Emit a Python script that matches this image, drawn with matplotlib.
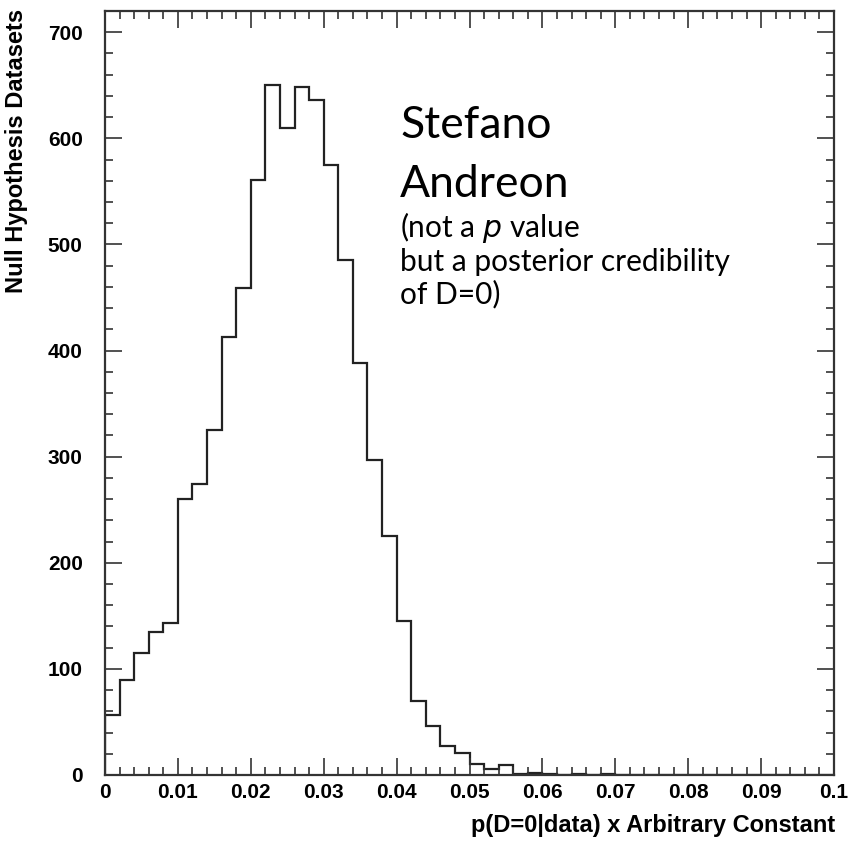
import numpy as np
import matplotlib
matplotlib.use('Agg')
import matplotlib.pyplot as plt
from matplotlib.ticker import MultipleLocator

# histogram of null hypothesis datasets, 50 bins of width 0.002
bin_edges = np.round(np.arange(0, 0.1001, 0.002), 4)
counts = [57, 90, 115, 135, 143, 260, 274, 325, 413, 459,
          561, 650, 610, 648, 636, 575, 485, 388, 297, 225,
          145, 70, 46, 27, 21, 10, 6, 9, 1, 2,
          1, 0, 1, 0, 1, 0, 0, 0, 0, 0,
          0, 0, 0, 0, 0, 0, 0, 0, 0, 0]

x_ticks = [0, 0.01, 0.02, 0.03, 0.04, 0.05, 0.06, 0.07, 0.08, 0.09, 0.1]
x_tick_labels = ['0', '0.01', '0.02', '0.03', '0.04', '0.05', '0.06', '0.07', '0.08', '0.09', '0.1']
x_label = 'p(D=0|data) x Arbitrary Constant'
y_label = 'Null Hypothesis Datasets'

fig = plt.figure(figsize=(8.5, 8.41), dpi=100)
ax = fig.add_axes([105 / 850, 66 / 841, (834 - 105) / 850, (775 - 11) / 841])

ax.stairs(counts, bin_edges, color='#222222', linewidth=1.6)

ax.set_xlim(0, 0.1)
ax.set_ylim(0, 720)
ax.set_xticks(x_ticks)
ax.set_xticklabels(x_tick_labels)
ax.xaxis.set_minor_locator(MultipleLocator(0.002))
ax.yaxis.set_major_locator(MultipleLocator(100))
ax.yaxis.set_minor_locator(MultipleLocator(20))

ax.tick_params(which='both', direction='in', top=True, right=True, width=1.2, color='#333333')
ax.tick_params(which='major', length=12)
ax.tick_params(which='minor', length=6)
for lab in ax.get_xticklabels() + ax.get_yticklabels():
    lab.set_fontfamily('Liberation Sans')
    lab.set_fontweight('bold')
    lab.set_fontsize(15)
ax.tick_params(axis='x', pad=6)
ax.tick_params(axis='y', pad=16)
for s in ax.spines.values():
    s.set_linewidth(1.6)
    s.set_color('#333333')

fig.text(835 / 850, 1 - 832 / 841, x_label, ha='right', va='baseline',
         fontfamily='Liberation Sans', fontweight='bold', fontsize=17)
fig.text(17 / 850, 1 - 9 / 841, y_label, ha='center', va='top', rotation=90,
         fontfamily='Liberation Sans', fontweight='bold', fontsize=17)

# annotation
fig.text(400 / 850, 1 - 138 / 841, 'Stefano', fontfamily='Lato', fontsize=32,
         va='baseline', ha='left')
fig.text(400 / 850, 1 - 197 / 841, 'Andreon', fontfamily='Lato', fontsize=32,
         va='baseline', ha='left')
fig.text(400 / 850, 1 - 237 / 841, '(not a $\\it{p}$ value', fontfamily='Lato', fontsize=21.5,
         va='baseline', ha='left')
fig.text(400 / 850, 1 - 271 / 841, 'but a posterior credibility', fontfamily='Lato', fontsize=21.5,
         va='baseline', ha='left')
fig.text(400 / 850, 1 - 303 / 841, 'of D=0)', fontfamily='Lato', fontsize=21.5,
         va='baseline', ha='left')

fig.savefig('out.png', dpi=100)
